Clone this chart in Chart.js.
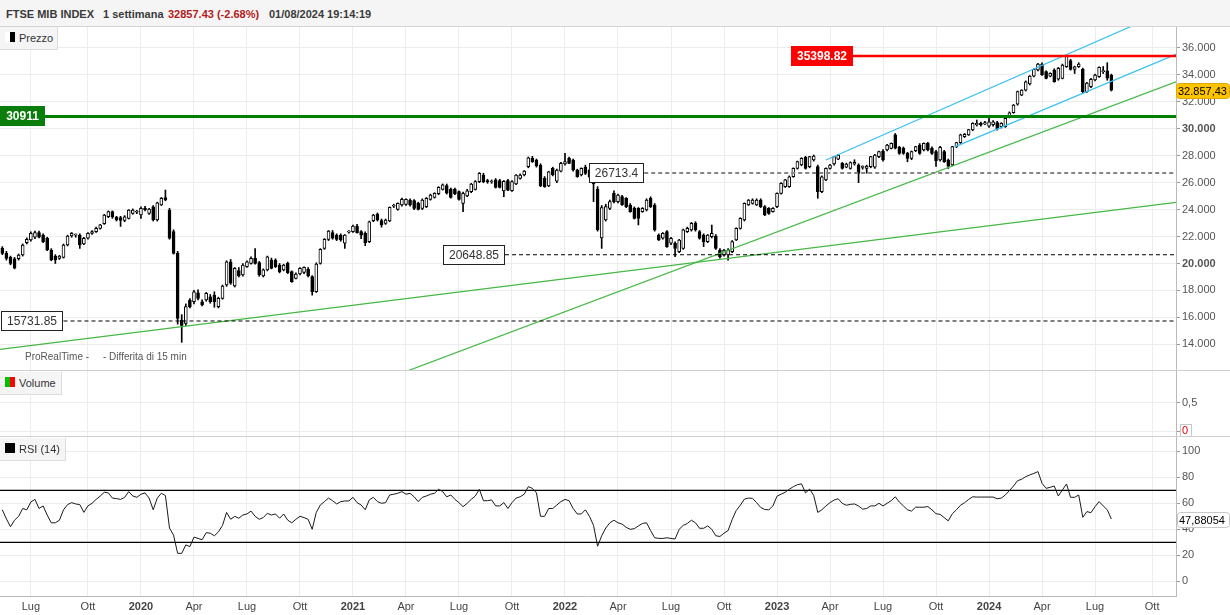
<!DOCTYPE html>
<html lang="it">
<head>
  <meta charset="UTF-8">
  <title>FTSE MIB INDEX</title>
  <script src="https://cdn.jsdelivr.net/npm/chart.js"></script>
  <style>
    body { margin: 0; background: #fff; font-family: Arial, "Liberation Sans", sans-serif; }
    #wrap { position: relative; width: 1230px; height: 615px; overflow: hidden; }
    #head { position: absolute; left: 0; top: 0; width: 1230px; height: 26px; background: #f5f5f5; border-bottom: 1px solid #d4d4d4; }
    #head span { position: absolute; top: 8px; font-size: 11px; font-weight: bold; color: #3a3a3a; white-space: nowrap; }
    canvas { position: absolute; left: 0; }
    .sep { position: absolute; left: 0; width: 1230px; height: 1px; background: #cfcfcf; }
    .leg { position: absolute; left: 0; height: 23px; background: #f5f5f5; border-right: 1px solid #ddd; border-bottom: 1px solid #ddd;
           font-size: 11px; color: #333; line-height: 23px; padding-left: 19px; box-sizing: border-box; }
    .leg i { position: absolute; left: 5px; top: 5px; width: 10px; height: 10px; }
    .note { position: absolute; top: 351px; font-size: 10px; color: #555; white-space: nowrap; }
  </style>
</head>
<body>
<div id="wrap">
  <div id="head">
    <span style="left:6px">FTSE MIB INDEX</span>
    <span style="left:103px">1 settimana</span>
    <span style="left:168px;color:#b31b1b">32857.43 (-2.68%)</span>
    <span style="left:269px">01/08/2024 19:14:19</span>
  </div>
  <canvas id="priceChart" width="1230" height="344" style="top:27px"></canvas>
  <canvas id="volChart" width="1230" height="66" style="top:371px"></canvas>
  <canvas id="rsiChart" width="1230" height="178" style="top:437px"></canvas>
  <div class="sep" style="top:370px"></div>
  <div class="sep" style="top:436px"></div>
  <div class="leg" style="top:27px;width:58px"><i style="background:linear-gradient(to right,#fff 50%,#000 50%)"></i>Prezzo</div>
  <div class="leg" style="top:372px;width:62px"><i style="background:linear-gradient(to right,#00c000 50%,#ff0000 50%)"></i>Volume</div>
  <div class="leg" style="top:438px;width:66px"><i style="background:#000"></i>RSI (14)</div>
  <div class="note" style="left:25px">ProRealTime -</div>
  <div class="note" style="left:103px">- Differita di 15 min</div>
</div>
<script>
  // weekly candles, first week starting 2019-05-13
  const firstWeek = '2019-05-13';
  const opens = [
    21120,20750,20450,20350,20350,20630,21550,21750,21950,22290,
    22100,21870,21000,20550,20380,20450,21370,22040,22110,22110,
    21450,21870,22240,22360,22610,22950,23470,23850,23450,23400,
    23200,23350,23720,23800,23600,24100,23720,24200,23230,24340,
    24900,23970,22360,20750,15800,15560,17290,17160,17830,17160,
    17290,17530,17650,16800,17410,18400,20130,18330,19470,19150,
    19760,20010,20380,20060,19070,19520,20260,20260,19890,19520,
    20010,19390,18900,19220,19340,19570,19020,17910,20010,21120,
    21790,22290,22110,22110,21500,22330,22360,22780,22360,22240,
    21620,23180,23670,23180,22980,23150,24250,24020,24340,24390,
    24710,24660,24460,24090,24220,24760,24910,25180,25500,25780,
    25500,25500,25330,24460,25010,25330,25500,26070,26570,26120,
    26050,26200,26150,25380,26150,25400,25900,26320,26570,27190,
    27800,27680,27310,26320,25750,27060,26100,26860,27380,27800,
    27680,26940,26570,27140,26940,26570,25500,21900,23230,24090,
    25210,24590,24960,24830,24340,24090,24090,23850,23970,24830,
    24340,22110,21870,22360,21500,21500,20880,21120,22360,22490,
    22980,22360,22110,21620,21990,22040,21000,20630,20630,20880,
    21740,22610,23230,24340,24460,24340,24710,24220,24090,23850,
    24220,25200,25700,25700,26440,27060,27310,27880,27190,27680,
    27190,25330,26200,27060,27380,27750,27430,27140,27060,27380,
    27310,27130,27060,27180,27140,27930,28350,28420,28540,29540,
    28620,28540,28170,27800,28370,28790,28420,28920,28540,28300,
    27680,28300,27680,27310,28670,28970,29410,29540,29910,30280,
    30400,30350,30200,30300,30450,30150,30150,30850,31190,31830,
    32500,32870,33320,33910,34360,34800,34240,33910,34360,33670,
    33740,34610,35050,34410,34610,34410,32750,33120,33620,33860,
    34240,34300,33990
  ];
  const highs = [
    21250,20900,20550,20450,20700,21450,21900,22350,22400,22400,
    22200,21950,21100,20650,20600,21450,22100,22300,22200,22200,
    21950,22300,22450,22700,22900,23650,23900,23900,23500,23500,
    23550,24000,24050,23950,24200,24250,24100,24300,24550,24900,
    25450,24100,22500,20900,16200,17000,17400,18000,18050,17300,
    17850,17700,17900,17500,18400,20200,20300,19700,19700,20000,
    20200,20500,21100,20150,19600,20550,20400,20350,20000,19950,
    20100,19450,19300,19700,19750,19700,19100,20050,21100,21850,
    22450,22450,22200,22200,22150,22450,22850,22900,22450,22350,
    23150,23650,23750,23300,23300,24200,24400,24500,24850,24800,
    24800,24750,24550,24800,24900,25150,25250,25700,25900,25900,
    25600,25600,25400,25300,25500,25950,26150,26750,26700,26250,
    26200,26300,26250,26150,26250,26150,26600,26650,26900,27900,
    27950,27750,27400,26450,26850,27150,27000,27500,28180,27900,
    27750,27000,27100,27300,27000,26700,25700,24300,24400,24700,
    25400,25150,25050,24900,24450,24200,24150,24150,24800,24950,
    24450,22200,22300,22450,21950,21600,21800,22550,22700,23050,
    23100,22450,22200,22150,22850,22150,21100,21050,21100,21700,
    22650,23400,24500,24750,24800,24800,24800,24300,24150,24150,
    25250,26000,26250,26500,27100,27600,27850,27950,27950,28050,
    27300,26500,27100,27350,27950,28100,27500,27450,27550,27700,
    27400,27250,27300,27950,28100,28350,28450,28850,28950,29650,
    28700,28650,28250,28350,28700,28900,28950,29000,28650,28400,
    28700,28400,27750,28700,29000,29600,29650,29950,30450,30650,
    30500,30550,30800,30600,30550,30450,30800,31250,31800,32800,
    32900,33550,33950,34450,34850,34900,34300,34150,34450,34550,
    34800,35398.82,35150,34650,34900,34500,33450,33750,34050,34600,
    34620,34900,34050
  ];
  const lows = [
    20650,20250,19900,19600,20250,20550,21450,21650,21850,21900,
    21550,20950,20200,20000,20300,20400,21300,21950,21950,21120,
    21400,21800,22150,22300,22550,22900,23400,23350,23150,22750,
    23100,23300,23650,23700,23350,23900,23650,23150,23150,24300,
    24650,21800,20700,15500,14150,15400,16700,17000,17300,16850,
    17200,17050,16750,16700,17350,18300,18450,18250,19000,19050,
    19700,19950,19950,19050,19000,19450,19600,19700,19300,19450,
    19250,18600,18850,19150,19250,19000,17650,17850,19950,21050,
    21700,21800,21700,21650,21120,22250,22300,22250,21850,21320,
    21550,23100,23150,22700,22900,23100,24150,23950,24250,24300,
    24250,24000,23970,24000,24150,24700,24850,25100,25450,25150,
    24850,25100,24700,23840,24950,25250,25450,26000,25990,25950,
    25950,25600,25600,24960,25400,25350,25850,26250,26500,27100,
    27500,27150,25700,25650,25700,26500,26000,26800,27300,27400,
    26850,26400,26500,26600,26350,24590,22400,21120,23150,24000,
    24500,24500,24300,24150,23800,23300,22860,23800,23900,24150,
    22400,21700,21800,21200,21400,20500,20800,21050,22300,22400,
    22400,21800,21250,21550,21900,21050,20400,20550,20250,20800,
    21700,22550,23150,24300,24400,24300,24150,23550,23650,23800,
    24150,25150,25650,25650,26400,27000,27250,27000,27100,27600,
    24840,25250,26150,27000,27300,27700,27000,27100,27000,27300,
    26000,27000,26700,27100,27050,27850,27600,28350,28500,28500,
    28100,28100,27550,27700,28300,28100,28350,28350,28100,27200,
    27600,27500,27050,27250,28600,28900,29350,29500,29850,30200,
    30200,30300,30100,30200,29900,30050,30100,30800,31150,31750,
    32450,32800,33250,33850,34300,33950,33700,33850,33450,33600,
    33700,34550,34350,34100,34550,32650,32700,33050,33550,33800,
    34100,33600,32800
  ];
  const closes = [
    20750,20380,20000,19650,20630,21370,21800,22240,22290,21950,
    21620,21000,20260,20260,20550,21370,22040,22240,22130,21370,
    21870,22240,22360,22610,22860,23600,23850,23450,23230,23200,
    23470,23970,23970,23850,24100,24000,24040,23230,24510,24830,
    24710,21870,20750,15930,15400,16800,16800,17900,17410,16920,
    17780,17160,17160,17410,18330,20130,18530,19640,19070,19890,
    20130,20380,20010,19150,19520,20500,19640,19760,19390,19890,
    19320,18650,19220,19640,19710,19070,17910,19960,21050,21790,
    22410,21870,21790,21740,22110,22360,22780,22290,22110,21540,
    23100,23600,23230,22860,23230,24170,24270,24460,24760,24760,
    24340,24090,24020,24710,24830,25080,25210,25650,25830,25210,
    24910,25160,24760,25210,25400,25900,26070,26690,26070,26070,
    26120,25650,25650,26100,25450,26070,26570,26570,26860,27850,
    27560,27240,25750,25700,26810,26570,26940,27430,27560,27430,
    26940,26440,27060,26690,26440,25900,22500,24150,24220,24590,
    24590,25080,24340,24220,23850,23350,23350,24090,24710,24220,
    22490,21740,22240,21250,21870,21120,21740,22490,22610,22980,
    22490,21870,21620,22110,22240,21120,20500,21000,21000,21620,
    22610,23350,24460,24710,24710,24710,24220,23600,23720,24090,
    25210,25950,26200,26440,27060,27560,27800,27060,27930,27980,
    25330,26440,27060,27310,27930,28050,27060,27380,27480,27500,
    26690,27180,27230,27930,28050,28300,27680,28790,28920,28550,
    28170,28170,27800,28300,28670,28170,28920,28420,28170,27630,
    28620,27560,27230,28670,28970,29540,29590,29930,30400,30400,
    30280,30450,30520,30520,29960,30400,30770,31190,31760,32750,
    32870,33490,33910,34410,34800,33990,33740,34110,33490,34480,
    34730,35400,34410,34600,34800,32750,33380,33670,33990,34560,
    34300,33760,32857.43
  ];
  const rsi = [
    55,48,42,47,50,56,55,61,63,56,
    58,51,45,45,47,55,59,60.5,59.5,59,
    53,58,60,63,65.5,68.5,68,64,63.6,63,
    64.6,69,65.6,64.6,67,68,64,55,64,67.7,
    66,41,35.5,21.5,21.5,28,26.7,34,33,32,
    37.4,37,35,38,43,53,47.7,50,48.5,51,
    51.8,54,50,47.7,49,52.3,51,51.8,48.5,51.8,
    47,45,47.7,50,49,47.7,40,53,58.7,61.3,
    64,62,59.5,61.3,61.8,61.8,64.6,60.5,58.7,55,
    62.6,64.6,61.3,60,60.5,66.4,67,67.7,69,67,
    67.7,65,61.3,64.6,65.6,67,67.7,70.8,69,65,
    66.4,63,60.5,57.4,60,63,65.6,70.8,62,62,
    62.6,58,58,60.5,56,60.5,64,65,67,72.8,
    71.5,68,50,50,56,56,58.7,61.3,63,62,
    56,51.8,51.8,55,50,43,27,35,41,45,
    47,45,44,41.5,40,40.5,42.6,44.5,45,39,
    33.5,33,33,33.5,33,32.5,40,43,44.5,47,
    45,40.8,40.8,42.6,40,35,34.5,37,39,47.5,
    54.5,58.5,63.2,64,63.8,60.5,56.8,55.2,55,58,
    65.5,67,68.5,70.8,72.8,74.3,75,68,71,66,
    53,55,58,60.5,62.5,63.5,60,58.5,59.2,59.5,
    58,55.5,56,58,58,60,58,60,62,65,
    61,58,55,54,57,57,57,57.5,55,52,
    51.5,49,46.5,52,55,58.5,60.5,63,65,64.8,
    64.8,64.8,64.8,64.8,63.5,64,66.4,69.7,73.3,77.4,
    78.5,80.5,81.8,83,84.4,75.4,71.5,72.3,73.3,65.6,
    70.3,74.9,64.6,64.6,66.4,49.2,53.6,52.8,57.4,61.3,
    58,55,47.88054
  ];

  // x axis: quarter ticks
  const quarterDates = ['2019-07-01','2019-10-07','2020-01-06','2020-04-06','2020-07-06','2020-10-05',
    '2021-01-04','2021-04-05','2021-07-05','2021-10-04','2022-01-03','2022-04-04','2022-07-04','2022-10-03',
    '2023-01-02','2023-04-03','2023-07-03','2023-10-02','2024-01-01','2024-04-01','2024-07-01','2024-10-07'];
  const quarterLabels = ['Lug','Ott','2020','Apr','Lug','Ott','2021','Apr','Lug','Ott','2022','Apr','Lug','Ott',
    '2023','Apr','Lug','Ott','2024','Apr','Lug','Ott'];
  const viewStart = '2019-05-09';
  const viewEnd = '2024-11-17';

  const priceTicks = [14000,16000,18000,20000,22000,24000,26000,28000,30000,32000,34000,36000];
  const volumeTicks = [0, 0.5];
  const rsiTicks = [0, 20, 40, 60, 80, 100];
  const rsiBands = [70, 30];

  // horizontal levels
  const levelValues = [35398.82, 30911, 26713.4, 20648.85, 15731.85];
  const levelStarts = ['2023-05-12', '2019-05-09', '2022-05-19', '2021-09-22', '2019-08-26'];

  // trend lines
  const trendFrom = ['2019-05-09', '2021-03-11', '2023-03-27', '2023-11-03'];
  const trendFromValue = [13630, 11577, 27680, 28655];
  const trendTo = ['2024-11-17', '2024-11-17', '2024-11-17', '2024-11-17'];
  const trendToValue = [24541, 33480, 39057, 35522];

  const lastPrice = 32857.43;

  // ---------------------------------------------------------------
  const FONT = 'Arial, "Liberation Sans", sans-serif';
  Chart.defaults.font.family = FONT;
  Chart.defaults.font.size = 11;
  Chart.defaults.color = '#555';
  Chart.defaults.animation = false;

  const dayOf = s => {
    const [y, m, d] = s.split('-').map(Number);
    return (Date.UTC(y, m - 1, d) - Date.UTC(2019, 0, 1)) / 86400000;
  };
  const weekDays = opens.map((_, i) => dayOf(firstWeek) + 7 * i);
  const xMin = dayOf(viewStart), xMax = dayOf(viewEnd);
  const itNum = (v, dec) => {
    const parts = (dec == null ? String(v) : v.toFixed(dec)).split('.');
    return parts[0].replace(/\B(?=(\d{3})+(?!\d))/g, '.') + (parts[1] ? ',' + parts[1] : '');
  };

  function xScale(showLabels) {
    return {
      type: 'linear', min: xMin, max: xMax, offset: false,
      afterBuildTicks: s => { s.ticks = quarterDates.map(d => ({ value: dayOf(d) })); },
      grid: { color: '#ececec', drawTicks: false, offset: false },
      border: { display: showLabels, color: '#bbb' },
      ticks: {
        display: showLabels, padding: 4, autoSkip: false, maxRotation: 0, color: '#444',
        callback: (v, i) => quarterLabels[i],
        font: c => ({ size: 11, weight: /^\d{4}$/.test(quarterLabels[c.index]) ? 'bold' : 'normal' })
      },
      afterFit: s => { s.height = showLabels ? 19 : 0; s.paddingLeft = 0; s.paddingRight = 0; }
    };
  }

  function yScale(min, max, ticks, fmt, extra) {
    return {
      position: 'right', min: min, max: max,
      afterBuildTicks: s => { s.ticks = ticks.map(v => ({ value: v })); },
      grid: { color: '#ececec', tickColor: '#999', tickLength: 4 },
      border: { display: true, color: '#bbb' },
      ticks: Object.assign({ padding: 2, callback: fmt, color: '#555', font: { size: 11 } }, extra || {}),
      afterFit: s => { s.width = 54; s.paddingTop = 0; s.paddingBottom = 0; }
    };
  }

  function tag(ctx, x, yc, w, h, fill, stroke, text, color) {
    const t = Math.round(yc - h / 2) + 0.5, l = x + 0.5, r = 3;
    ctx.beginPath();
    ctx.moveTo(l + r, t); ctx.lineTo(l + w - r, t); ctx.quadraticCurveTo(l + w, t, l + w, t + r);
    ctx.lineTo(l + w, t + h - r); ctx.quadraticCurveTo(l + w, t + h, l + w - r, t + h);
    ctx.lineTo(l + r, t + h); ctx.quadraticCurveTo(l, t + h, l, t + h - r);
    ctx.lineTo(l, t + r); ctx.quadraticCurveTo(l, t, l + r, t); ctx.closePath();
    ctx.fillStyle = fill; ctx.fill();
    ctx.strokeStyle = stroke; ctx.lineWidth = 1; ctx.stroke();
    ctx.fillStyle = color; ctx.font = '11px ' + FONT;
    ctx.textAlign = 'left'; ctx.textBaseline = 'middle';
    ctx.fillText(text, x + 2, t + h / 2 + 0.5);
  }

  const common = {
    responsive: false, devicePixelRatio: 1, events: [],
    layout: { padding: 0 },
    plugins: { legend: { display: false }, tooltip: { enabled: false } }
  };

  // ---------------- price panel
  const isUp = i => closes[i] >= opens[i];
  const lineDatasets = [];
  levelValues.forEach((v, k) => {
    lineDatasets.push({
      type: 'line', order: 0,
      data: [{ x: dayOf(levelStarts[k]), y: v }, { x: xMax, y: v }],
      borderColor: ['#ff0000', '#008000', '#858585', '#000', '#000'][k],
      borderWidth: [2.5, 3, 2, 1, 1][k],
      borderDash: k >= 2 ? [4, 3] : [],
      pointRadius: 0
    });
  });
  trendFrom.forEach((d, k) => {
    lineDatasets.push({
      type: 'line', order: 0,
      data: [{ x: dayOf(d), y: trendFromValue[k] }, { x: dayOf(trendTo[k]), y: trendToValue[k] }],
      borderColor: k < 2 ? '#45b845' : '#35c0f2',
      borderWidth: 1.2, pointRadius: 0
    });
  });

  const levelBoxes = {
    id: 'levelBoxes',
    afterDatasetsDraw(chart) {
      const { ctx, scales: { x, y } } = chart;
      ctx.save();
      levelValues.forEach((v, k) => {
        const filled = k < 2;
        const text = String(v);
        ctx.font = (filled ? 'bold ' : '') + '12px ' + FONT;
        const w = Math.round(ctx.measureText(text).width) + 12, h = 20;
        const px = x.getPixelForValue(dayOf(levelStarts[k]));
        const left = Math.round(k === 1 ? Math.max(px, chart.chartArea.left) : px - w);
        const top = Math.round(y.getPixelForValue(v) - h / 2);
        if (filled) {
          ctx.fillStyle = k === 0 ? '#ff0000' : '#0a7d0a';
          ctx.fillRect(left, top, w, h);
          ctx.fillStyle = '#fff';
        } else {
          ctx.fillStyle = '#fff';
          ctx.fillRect(left, top, w, h);
          ctx.strokeStyle = '#222'; ctx.lineWidth = 1;
          ctx.strokeRect(left + 0.5, top + 0.5, w - 1, h - 1);
          ctx.fillStyle = '#333';
        }
        ctx.textAlign = 'center'; ctx.textBaseline = 'middle';
        ctx.fillText(text, left + w / 2, top + h / 2 + 1);
      });
      ctx.restore();
    },
    afterDraw(chart) {
      const { ctx, scales: { y } } = chart;
      ctx.save();
      tag(ctx, chart.chartArea.right, y.getPixelForValue(lastPrice), 53, 15, '#ffc400', '#e0a800', itNum(lastPrice, 2), '#000');
      ctx.restore();
    }
  };

  new Chart(document.getElementById('priceChart'), {
    type: 'bar',
    data: {
      datasets: [
        {
          order: 1, grouped: false, barThickness: 3, minBarLength: 1,
          data: weekDays.map((d, i) => ({ x: d, y: [opens[i], closes[i]] })),
          backgroundColor: c => isUp(c.dataIndex) ? '#fff' : '#000',
          borderColor: '#000', borderWidth: 1, borderSkipped: false
        },
        {
          order: 2, grouped: false, barThickness: 1,
          data: weekDays.map((d, i) => ({ x: d, y: [lows[i], highs[i]] })),
          backgroundColor: '#000', borderWidth: 0
        }
      ].concat(lineDatasets)
    },
    options: Object.assign({}, common, {
      scales: {
        x: xScale(false),
        y: yScale(12020, 37551, priceTicks, v => itNum(v), {
          font: c => ({ size: 11, weight: c.tick && c.tick.value % 10000 === 0 ? 'bold' : 'normal' })
        })
      }
    }),
    plugins: [levelBoxes]
  });

  // ---------------- volume panel
  new Chart(document.getElementById('volChart'), {
    type: 'line',
    data: { datasets: [] },
    options: Object.assign({}, common, {
      scales: {
        x: xScale(false),
        y: yScale(-0.107, 1.071, volumeTicks, v => itNum(v), {
          color: c => c.tick && c.tick.value === 0 ? '#e00000' : '#555'
        })
      }
    }),
    plugins: [{
      id: 'zeroTag',
      afterDraw(chart) {
        const { ctx, scales: { y } } = chart;
        const yc = Math.round(y.getPixelForValue(0));
        ctx.save();
        ctx.strokeStyle = '#c8c8c8'; ctx.lineWidth = 1;
        ctx.strokeRect(chart.chartArea.right + 4.5, yc - 6.5, 11, 13);
        ctx.restore();
      }
    }]
  });

  // ---------------- RSI panel
  new Chart(document.getElementById('rsiChart'), {
    type: 'line',
    data: {
      datasets: [
        {
          data: weekDays.map((d, i) => ({ x: d, y: rsi[i] })),
          borderColor: '#1a1a1a', borderWidth: 1, pointRadius: 0, tension: 0
        }
      ].concat(rsiBands.map(v => ({
        data: [{ x: xMin, y: v }, { x: xMax, y: v }],
        borderColor: '#000', borderWidth: 1.2, pointRadius: 0
      })))
    },
    options: Object.assign({}, common, {
      scales: {
        x: xScale(true),
        y: yScale(-11.3, 111, rsiTicks, v => String(v))
      }
    }),
    plugins: [{
      id: 'rsiTag',
      afterDraw(chart) {
        const { ctx, scales: { y } } = chart;
        const last = rsi[rsi.length - 1];
        ctx.save();
        tag(ctx, chart.chartArea.right + 1, y.getPixelForValue(last), 52, 15, '#fff', '#c8c8c8', itNum(last, 5), '#000');
        ctx.restore();
      }
    }]
  });
</script>
</body>
</html>
